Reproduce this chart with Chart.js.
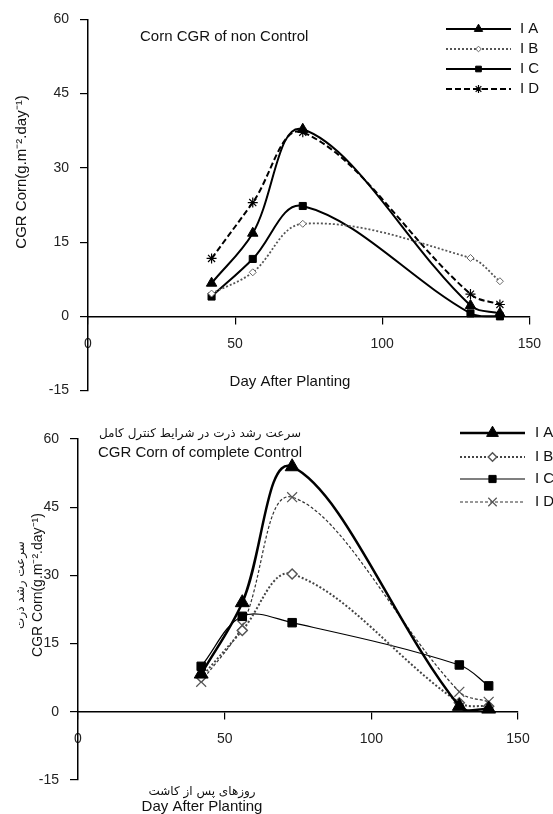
<!DOCTYPE html>
<html><head><meta charset="utf-8">
<script src="https://cdn.jsdelivr.net/npm/chart.js@4/dist/chart.umd.min.js"></script>
<style>
html,body{margin:0;padding:0;background:#fff;}
#w1{position:absolute;left:0;top:0;width:553px;height:410px;}
#w2{position:absolute;left:0;top:400px;width:553px;height:414px;}
canvas{display:block;}
</style></head><body>
<div id="w1"><canvas id="c1" width="553" height="410"></canvas></div>
<div id="w2"><canvas id="c2" width="553" height="414"></canvas></div>
<script>
// ---- data ----
const days = [42, 56, 73, 130, 140];
const seriesNames = ['I A', 'I B', 'I C', 'I D'];
const topIA = [6.7, 16.8, 37.8, 2.2, 0.6];
const topIB = [4.6, 8.9, 18.7, 11.8, 7.1];
const topIC = [4.0, 11.6, 22.3, 0.6, 0.0];
const topID = [11.7, 23.0, 37.2, 4.5, 2.4];
const botIA = [8.3, 24.0, 53.9, 1.2, 0.6];
const botIB = [7.6, 17.9, 30.3, 2.0, 1.2];
const botIC = [10.0, 21.0, 19.6, 10.3, 5.7];
const botID = [6.6, 19.0, 47.2, 4.4, 2.2];
const yTicks = [-15, 0, 15, 30, 45, 60];
const xTicks = [0, 50, 100, 150];
const topTitle = 'Corn CGR of non Control';
const botTitleFa = 'سرعت رشد ذرت در شرایط کنترل کامل';
const botTitleEn = 'CGR Corn of complete Control';
const yTitleEn = 'CGR Corn(g.m\u207B\u00B2.day\u207B\u00B9)';
const yTitleFa = 'سرعت رشد ذرت';
const xTitleEn = 'Day After Planting';
const xTitleFa = 'روزهای پس از کاشت';

const FONT = '"Liberation Sans", Arial, sans-serif';
const FA = '"DejaVu Sans", sans-serif';

function pts(vals){ return days.map((d,i)=>({x:d, y:vals[i]})); }

function drawMarker(ctx, style, r, x, y, fill, stroke, bw){
  if (Chart.helpers && Chart.helpers.drawPoint){
    ctx.save();
    ctx.fillStyle = fill; ctx.strokeStyle = stroke; ctx.lineWidth = bw; ctx.setLineDash([]);
    Chart.helpers.drawPoint(ctx, {pointStyle: style, rotation: 0, radius: r, borderWidth: bw}, x, y);
    ctx.restore();
  }
}

const legendPlugin = {
  id: 'customLegend',
  afterDraw(chart, args, o){
    if (!o || !o.rows) return;
    const ctx = chart.ctx;
    chart.data.datasets.forEach((ds, i) => {
      const y = o.rows[i];
      ctx.save();
      ctx.strokeStyle = ds.borderColor;
      ctx.lineWidth = ds.borderWidth;
      ctx.setLineDash(ds.borderDash || []);
      ctx.beginPath(); ctx.moveTo(o.x1, y); ctx.lineTo(o.x2, y); ctx.stroke();
      ctx.restore();
      const r = o.markerScale ? ds.pointRadius * o.markerScale : ds.pointRadius;
      drawMarker(ctx, ds.pointStyle, r, (o.x1+o.x2)/2, y, ds.pointBackgroundColor, ds.pointBorderColor, ds.pointBorderWidth);
      ctx.save();
      ctx.fillStyle = '#111';
      ctx.font = o.font;
      ctx.textAlign = 'left'; ctx.textBaseline = 'middle';
      ctx.fillText(ds.label, o.tx, y);
      ctx.restore();
    });
  }
};

const textPlugin = {
  id: 'texts',
  afterDraw(chart, args, o){
    if (!o || !o.items) return;
    const ctx = chart.ctx;
    o.items.forEach(t => {
      ctx.save();
      ctx.fillStyle = t.color || '#111';
      ctx.font = t.font;
      ctx.textAlign = t.align || 'center';
      ctx.textBaseline = 'middle';
      ctx.translate(t.x, t.y);
      if (t.rot) ctx.rotate(t.rot);
      ctx.fillText(t.text, 0, 0);
      ctx.restore();
    });
  }
};

function scales(yw, tickLen, pad){
  return {
    x: {
      type: 'linear', min: 0, max: 150,
      position: {y: 0},
      afterBuildTicks: s => { s.ticks = xTicks.map(v => ({value: v})); },
      grid: {drawOnChartArea: false, drawTicks: true, tickLength: 7, color: '#000', lineWidth: 1.2},
      border: {display: true, color: '#000', width: 1.5},
      ticks: {color: '#222', font: {family: FONT, size: 14}, padding: pad, maxRotation: 0, autoSkip: false}
    },
    y: {
      type: 'linear', min: -15, max: 60,
      afterBuildTicks: s => { s.ticks = yTicks.map(v => ({value: v})); },
      afterFit: s => { s.width = yw; },
      grid: {drawOnChartArea: false, drawTicks: true, tickLength: tickLen, color: '#000', lineWidth: 1.2},
      border: {display: true, color: '#000', width: 1.5},
      ticks: {color: '#222', font: {family: FONT, size: 14}, padding: 11}
    }
  };
}

function ds(label, vals, o){
  return Object.assign({
    label, data: pts(vals), fill: false, tension: 0.36, cubicInterpolationMode: 'default',
    borderColor: '#000', borderWidth: 2, pointBackgroundColor: '#000', pointBorderColor: '#000',
    pointBorderWidth: 1, pointHoverRadius: 0
  }, o);
}

new Chart(document.getElementById('c1'), {
  type: 'line',
  data: { datasets: [
    ds(seriesNames[0], topIA, {pointStyle: 'triangle', pointRadius: 6, borderWidth: 2}),
    ds(seriesNames[1], topIB, {pointStyle: 'rectRot', pointRadius: 3.5, borderWidth: 1.8, borderColor: '#555', borderDash: [2,2], pointBackgroundColor: '#fff', pointBorderColor: '#666'}),
    ds(seriesNames[2], topIC, {pointStyle: 'rect', pointRadius: 5, borderWidth: 2}),
    ds(seriesNames[3], topID, {pointStyle: 'star', pointRadius: 5, borderWidth: 2, borderDash: [6,3], pointBorderWidth: 1.2})
  ]},
  options: {
    responsive: false, animation: false, devicePixelRatio: 1,
    layout: {padding: {left: 38, right: 13, top: 19, bottom: 12}},
    plugins: {
      legend: {display: false}, tooltip: {enabled: false},
      customLegend: {x1: 446, x2: 511, tx: 520, rows: [29, 49, 69, 89], font: '15px ' + FONT, markerScale: 0.8},
      texts: {items: [
        {text: topTitle, x: 140, y: 37, font: '15px ' + FONT, align: 'left'},
        {text: yTitleEn, x: 22, y: 172, font: '15px ' + FONT, rot: -Math.PI/2},
        {text: xTitleEn, x: 290, y: 382, font: '15px ' + FONT}
      ]}
    },
    scales: scales(50, 8, 12)
  },
  plugins: [legendPlugin, textPlugin]
});

new Chart(document.getElementById('c2'), {
  type: 'line',
  data: { datasets: [
    ds(seriesNames[0], botIA, {pointStyle: 'triangle', pointRadius: 8, borderWidth: 2.5}),
    ds(seriesNames[1], botIB, {pointStyle: 'rectRot', pointRadius: 5, borderWidth: 2, borderColor: '#444', borderDash: [2,2], pointBackgroundColor: '#fff', pointBorderColor: '#555', pointBorderWidth: 1.5}),
    ds(seriesNames[2], botIC, {pointStyle: 'rect', pointRadius: 6, borderWidth: 1.2}),
    ds(seriesNames[3], botID, {pointStyle: 'crossRot', pointRadius: 7, borderWidth: 1.2, borderColor: '#333', borderDash: [3,2], pointBorderColor: '#555', pointBorderWidth: 1.2})
  ]},
  options: {
    responsive: false, animation: false, devicePixelRatio: 1,
    layout: {padding: {left: 28, right: 35, top: 39, bottom: 34}},
    plugins: {
      legend: {display: false}, tooltip: {enabled: false},
      customLegend: {x1: 460, x2: 525, tx: 535, rows: [33, 57, 79, 102], font: '15px ' + FONT, markerScale: 0.85},
      texts: {items: [
        {text: botTitleFa, x: 200, y: 34, font: '12px ' + FA},
        {text: botTitleEn, x: 200, y: 53, font: '15px ' + FONT},
        {text: yTitleFa, x: 21, y: 185, font: '12px ' + FA, rot: -Math.PI/2},
        {text: yTitleEn, x: 38, y: 185, font: '14px ' + FONT, rot: -Math.PI/2},
        {text: xTitleFa, x: 202, y: 392, font: '12px ' + FA},
        {text: xTitleEn, x: 202, y: 407, font: '15px ' + FONT}
      ]}
    },
    scales: scales(50, 8, 12)
  },
  plugins: [legendPlugin, textPlugin]
});
</script>
</body></html>
